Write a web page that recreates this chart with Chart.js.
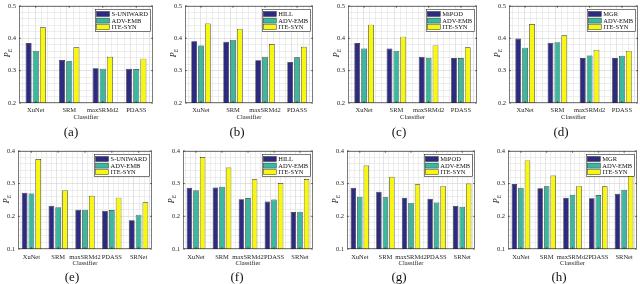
<!DOCTYPE html>
<html>
<head>
<meta charset="utf-8">
<script src="https://cdn.jsdelivr.net/npm/chart.js@4.4.1/dist/chart.umd.min.js"></script>
<style>
  body { margin: 0; width: 640px; height: 284px; background: #fff; position: relative; overflow: hidden; font-family: "Liberation Serif", serif; }
  canvas { position: absolute; }
  .cap { position: absolute; font-size: 13px; color: #111; transform: translate(-50%, -50%); white-space: nowrap; }
  .ylab { position: absolute; font-size: 8px; font-style: italic; color: #222; transform: translate(-50%, -50%) rotate(-90deg); white-space: nowrap; }
  .ylab sub { font-size: 5.5px; }
</style>
</head>
<body>
<script>
// categories on the x axis
var classifiers4 = ['XuNet', 'SRM', 'maxSRMd2', 'PDASS'];
var classifiers5 = ['XuNet', 'SRM', 'maxSRMd2', 'PDASS', 'SRNet'];

// top row, P_E per classifier
var a_suniward = [0.385, 0.333, 0.307, 0.306];
var a_advemb   = [0.361, 0.329, 0.306, 0.305];
var a_itesyn   = [0.434, 0.372, 0.343, 0.337];

var b_hill     = [0.391, 0.389, 0.332, 0.327];
var b_advemb   = [0.378, 0.395, 0.343, 0.341];
var b_itesyn   = [0.446, 0.429, 0.382, 0.374];

var c_mipod    = [0.385, 0.368, 0.343, 0.339];
var c_advemb   = [0.368, 0.361, 0.340, 0.339];
var c_itesyn   = [0.442, 0.405, 0.378, 0.372];

var d_mgr      = [0.399, 0.386, 0.339, 0.339];
var d_advemb   = [0.371, 0.388, 0.347, 0.346];
var d_itesyn   = [0.444, 0.409, 0.364, 0.361];

// bottom row
var e_suniward = [0.272, 0.232, 0.220, 0.217, 0.188];
var e_advemb   = [0.270, 0.228, 0.220, 0.219, 0.205];
var e_itesyn   = [0.375, 0.280, 0.263, 0.257, 0.243];

var f_hill     = [0.287, 0.288, 0.252, 0.245, 0.213];
var f_advemb   = [0.280, 0.290, 0.256, 0.251, 0.214];
var f_itesyn   = [0.381, 0.349, 0.313, 0.302, 0.314];

var g_mipod    = [0.287, 0.275, 0.257, 0.254, 0.232];
var g_advemb   = [0.260, 0.258, 0.241, 0.242, 0.229];
var g_itesyn   = [0.355, 0.321, 0.298, 0.293, 0.300];

var h_mgr      = [0.299, 0.286, 0.257, 0.255, 0.269];
var h_advemb   = [0.287, 0.292, 0.266, 0.265, 0.281];
var h_itesyn   = [0.371, 0.325, 0.293, 0.292, 0.332];

var yRangeTop = [0.2, 0.5];
var yRangeBottom = [0.1, 0.4];

var colors = ['#2d2b80', '#3bb89d', '#f7f70f'];
var inkColor = '#262626';

// plot boxes in page pixels: left, right, top, bottom
var panels = [
  { cap: '(a)', cx: 71,  labels: classifiers4, names: ['S-UNIWARD', 'ADV-EMB', 'ITE-SYN'], data: [a_suniward, a_advemb, a_itesyn], y: yRangeTop, box: [19, 153, 3, 103] },
  { cap: '(b)', cx: 237, labels: classifiers4, names: ['HILL', 'ADV-EMB', 'ITE-SYN'],      data: [b_hill, b_advemb, b_itesyn],       y: yRangeTop, box: [185, 313, 3, 103] },
  { cap: '(c)', cx: 399, labels: classifiers4, names: ['MiPOD', 'ADV-EMB', 'ITE-SYN'],     data: [c_mipod, c_advemb, c_itesyn],      y: yRangeTop, box: [348, 477, 3, 103] },
  { cap: '(d)', cx: 561, labels: classifiers4, names: ['MGR', 'ADV-EMB', 'ITE-SYN'],       data: [d_mgr, d_advemb, d_itesyn],        y: yRangeTop, box: [509, 638, 3, 103] },
  { cap: '(e)', cx: 72,  labels: classifiers5, names: ['S-UNIWARD', 'ADV-EMB', 'ITE-SYN'], data: [e_suniward, e_advemb, e_itesyn], y: yRangeBottom, box: [18, 152, 148, 249] },
  { cap: '(f)', cx: 237, labels: classifiers5, names: ['HILL', 'ADV-EMB', 'ITE-SYN'],      data: [f_hill, f_advemb, f_itesyn],       y: yRangeBottom, box: [183, 313, 148, 249] },
  { cap: '(g)', cx: 399, labels: classifiers5, names: ['MiPOD', 'ADV-EMB', 'ITE-SYN'],     data: [g_mipod, g_advemb, g_itesyn],      y: yRangeBottom, box: [347, 475, 148, 249] },
  { cap: '(h)', cx: 559, labels: classifiers5, names: ['MGR', 'ADV-EMB', 'ITE-SYN'],       data: [h_mgr, h_advemb, h_itesyn],        y: yRangeBottom, box: [508, 637, 148, 249] }
];

var Y_AXIS_W = 22, X_AXIS_H = 18, PAD_T = 4, PAD_R = 4;

function isMajor(v, step) {
  var t = Math.round(v / step);
  return Math.abs(v / step - t) < 1e-6;
}

// box around the plot plus the little inward ticks matlab puts on every side
var boxPlugin = {
  id: 'box',
  afterDraw: function (chart) {
    var c = chart.ctx, a = chart.chartArea;
    c.save();
    c.strokeStyle = inkColor;
    c.lineWidth = 0.6;
    c.strokeRect(a.left + 0.5, a.top + 0.5, a.right - a.left - 1, a.bottom - a.top - 1);
    var ys = chart.scales.y;
    ys.ticks.forEach(function (t) {
      if (!isMajor(t.value, 0.1)) return;
      var py = ys.getPixelForValue(t.value);
      c.beginPath();
      c.moveTo(a.left, py); c.lineTo(a.left + 2, py);
      c.moveTo(a.right, py); c.lineTo(a.right - 2, py);
      c.stroke();
    });
    var xs = chart.scales.x;
    for (var i = 0; i < chart.data.labels.length; i++) {
      var px = xs.getPixelForValue(i);
      c.beginPath();
      c.moveTo(px, a.bottom); c.lineTo(px, a.bottom - 2);
      c.moveTo(px, a.top); c.lineTo(px, a.top + 2);
      c.stroke();
    }
    c.restore();
  }
};

// legend box drawn inside the plot, top right
var insideLegend = {
  id: 'insideLegend',
  afterDraw: function (chart) {
    var c = chart.ctx, a = chart.chartArea;
    var sets = chart.data.datasets;
    c.save();
    c.font = '6.5px "Liberation Serif"';
    var maxw = 0;
    sets.forEach(function (d) { maxw = Math.max(maxw, c.measureText(d.label).width); });
    var sw = 13, sh = 5, row = 6.6;
    var w = 1.5 + sw + 2 + maxw + 2;
    var h = sets.length * row + 2.5;
    var x0 = a.right - 3 - w, y0 = a.top + 3;
    c.fillStyle = '#fff';
    c.fillRect(x0, y0, w, h);
    c.strokeStyle = inkColor;
    c.lineWidth = 0.6;
    c.strokeRect(x0 + 0.5, y0 + 0.5, w, h);
    sets.forEach(function (d, i) {
      var cy = y0 + 1.8 + row * i + row / 2;
      c.fillStyle = d.backgroundColor;
      c.fillRect(x0 + 1.5, cy - sh / 2, sw, sh);
      c.lineWidth = 0.5;
      c.strokeStyle = '#333';
      c.strokeRect(x0 + 1.5, cy - sh / 2, sw, sh);
      c.fillStyle = '#111';
      c.textBaseline = 'middle';
      c.fillText(d.label, x0 + 1.5 + sw + 2, cy + 0.3);
    });
    c.restore();
  }
};

panels.forEach(function (p) {
  var L = p.box[0], R = p.box[1], T = p.box[2], B = p.box[3];
  var cv = document.createElement('canvas');
  cv.width = R - L + Y_AXIS_W + PAD_R;
  cv.height = B - T + PAD_T + X_AXIS_H;
  cv.style.left = (L - Y_AXIS_W) + 'px';
  cv.style.top = (T - PAD_T) + 'px';
  document.body.appendChild(cv);

  var n = p.labels.length;
  var bottomRow = n === 5;

  new Chart(cv.getContext('2d'), {
    type: 'bar',
    data: {
      labels: p.labels,
      datasets: p.names.map(function (name, i) {
        return {
          label: name,
          data: p.data[i],
          backgroundColor: colors[i],
          borderColor: '#2a2a2a',
          borderWidth: 0.7,
          categoryPercentage: bottomRow ? 0.76 : 0.64,
          barPercentage: 0.84
        };
      })
    },
    options: {
      responsive: false,
      animation: false,
      devicePixelRatio: 1,
      layout: { padding: { top: PAD_T, right: PAD_R, left: 0, bottom: 0 } },
      plugins: { legend: { display: false }, tooltip: { enabled: false } },
      scales: {
        x: {
          grid: { display: false, drawTicks: false },
          border: { display: false },
          ticks: {
            color: inkColor, autoSkip: false, maxRotation: 0, minRotation: 0,
            padding: bottomRow ? 4 : 3,
            font: { family: 'Liberation Serif', size: 6.5 }
          },
          title: {
            display: true, text: 'Classifier', color: inkColor,
            padding: 0, font: { family: 'Liberation Serif', size: 6.5 }
          },
          afterFit: function (s) { s.height = X_AXIS_H; }
        },
        xg: {
          type: 'linear',
          position: 'bottom',
          min: 0.5,
          max: n + 0.5,
          ticks: { display: false },
          border: { display: false },
          grid: {
            drawTicks: false,
            lineWidth: 0.6,
            color: function (ctx) {
              var v = ctx.tick ? ctx.tick.value : 0;
              return isMajor(v, 1) ? '#d0d0d0' : '#e3e3e3';
            }
          },
          afterBuildTicks: function (s) {
            var ticks = [];
            for (var k = Math.ceil(0.5 / 0.2); k * 0.2 <= n + 0.5 + 1e-9; k++) {
              ticks.push({ value: Math.round(k * 0.2 * 10) / 10 });
            }
            s.ticks = ticks;
          },
          afterFit: function (s) { s.height = 0; }
        },
        y: {
          min: p.y[0],
          max: p.y[1],
          border: { display: false },
          grid: {
            drawTicks: false,
            lineWidth: 0.6,
            color: function (ctx) {
              var v = ctx.tick ? ctx.tick.value : 0;
              return isMajor(v, 0.1) ? '#d0d0d0' : '#e3e3e3';
            }
          },
          ticks: {
            stepSize: 0.02,
            autoSkip: false,
            padding: 3,
            color: inkColor,
            font: { family: 'Liberation Serif', size: 6.5 },
            callback: function (v) { return isMajor(v, 0.1) ? v.toFixed(1) : ''; }
          },
          afterFit: function (s) { s.width = Y_AXIS_W; }
        }
      }
    },
    plugins: [boxPlugin, insideLegend]
  });

  var yl = document.createElement('div');
  yl.className = 'ylab';
  yl.innerHTML = 'P<sub>E</sub>';
  yl.style.left = (L - 11) + 'px';
  yl.style.top = ((T + B) / 2) + 'px';
  document.body.appendChild(yl);

  var cap = document.createElement('div');
  cap.className = 'cap';
  cap.textContent = p.cap;
  cap.style.left = p.cx + 'px';
  cap.style.top = (bottomRow ? 277 : 132) + 'px';
  document.body.appendChild(cap);
});
</script>
</body>
</html>
